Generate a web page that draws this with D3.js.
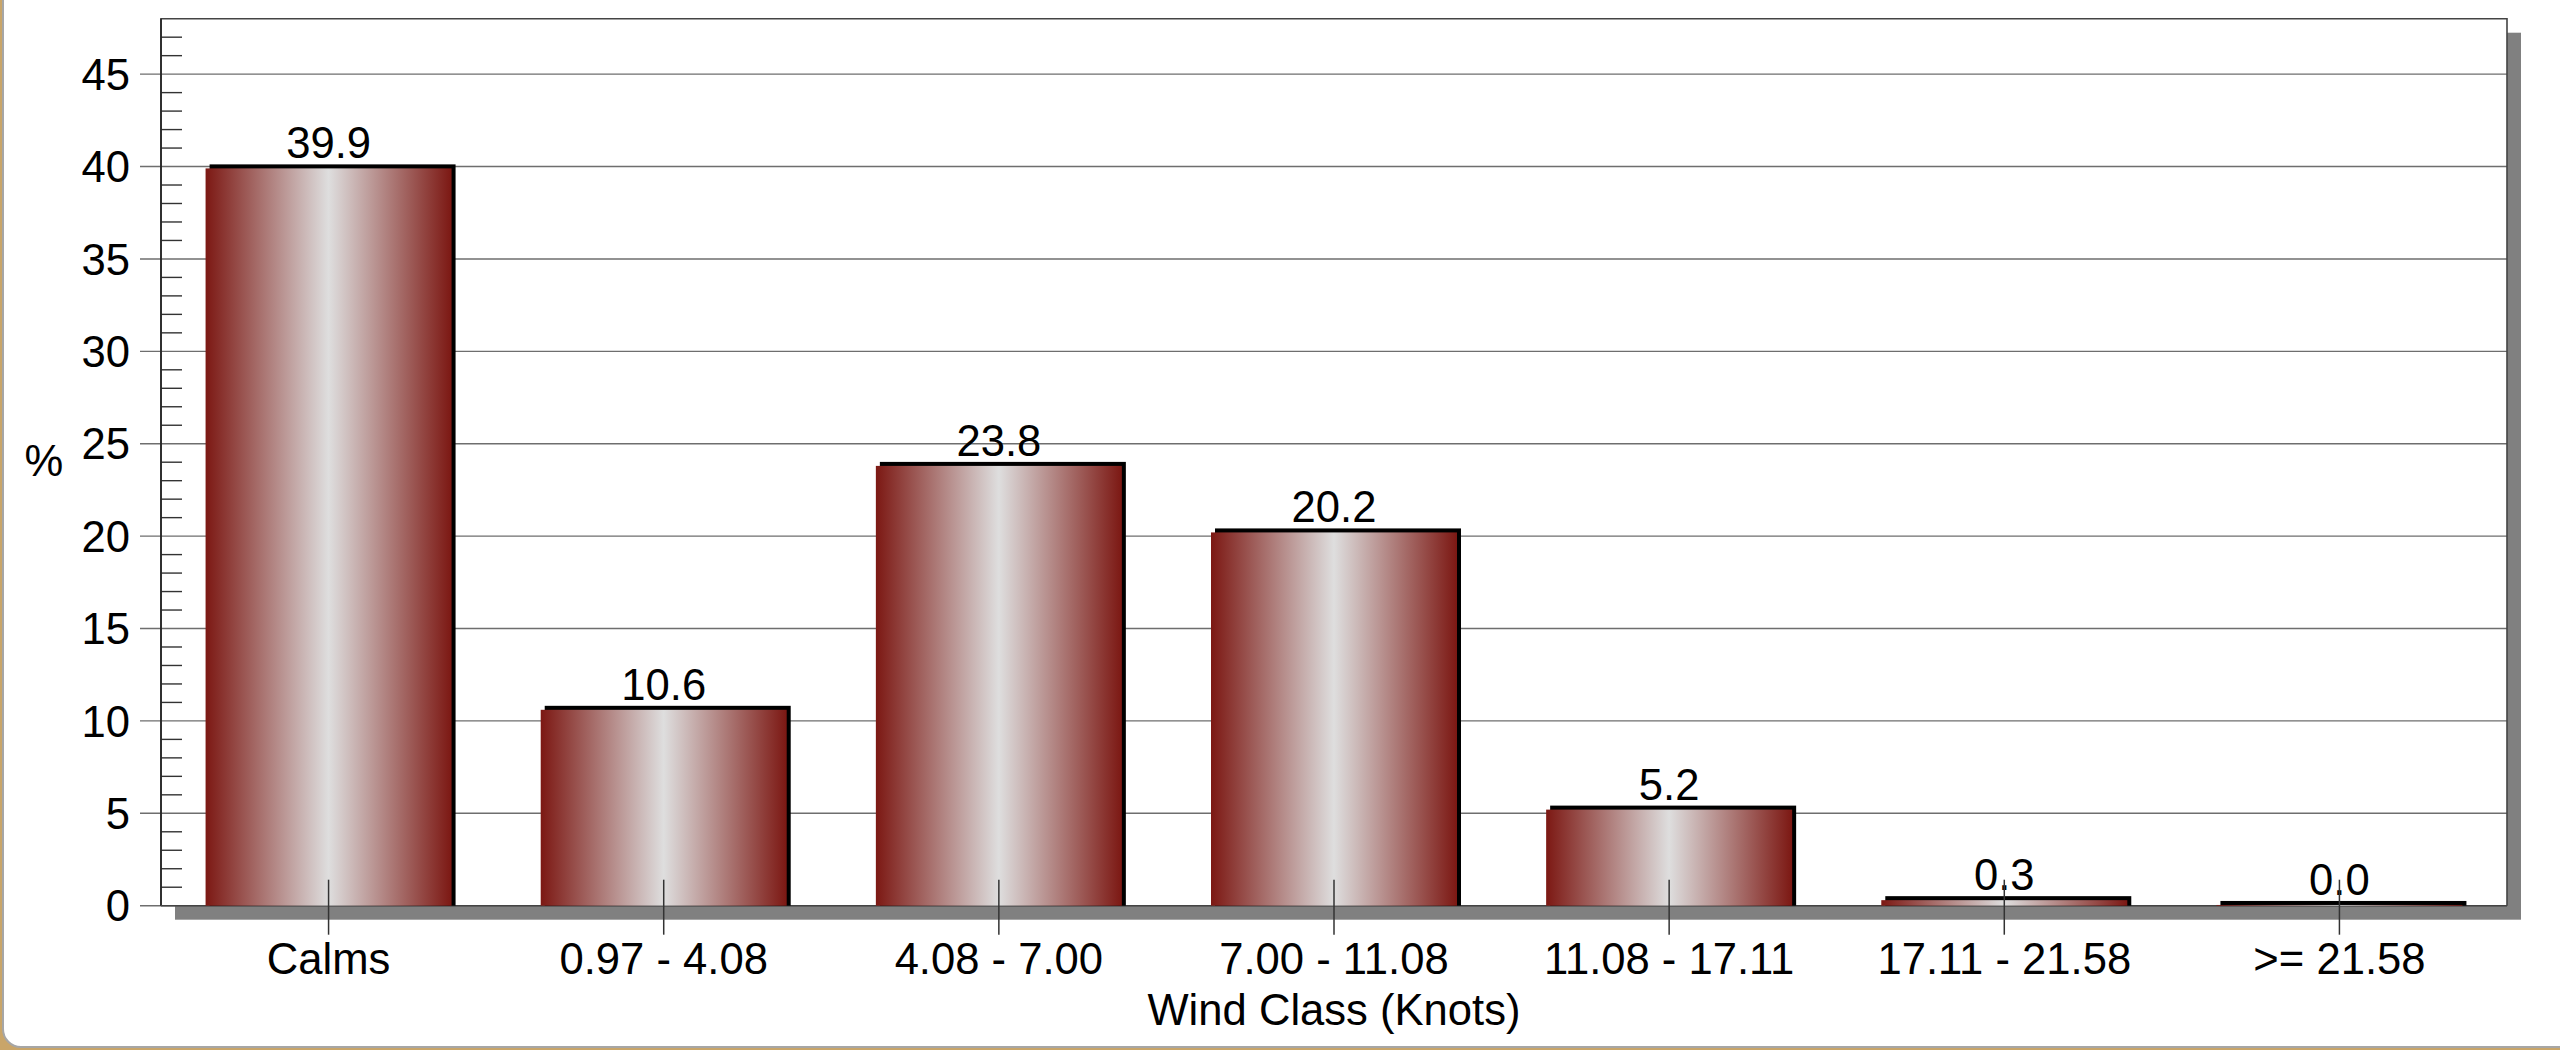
<!DOCTYPE html>
<html>
<head>
<meta charset="utf-8">
<script src="https://cdn.jsdelivr.net/npm/d3@7"></script>
<style>
  html, body { margin: 0; padding: 0; background: #c9a569; overflow: hidden; }
  svg { display: block; }
  text { font-family: "Liberation Sans", Arial, sans-serif; fill: #000; }
</style>
</head>
<body>
<svg id="chart" width="2560" height="1050"></svg>
<script>
const categories = ["Calms", "0.97 - 4.08", "4.08 - 7.00", "7.00 - 11.08", "11.08 - 17.11", "17.11 - 21.58", ">= 21.58"];
const values = [39.9, 10.6, 23.8, 20.2, 5.2, 0.3, 0.04];
const yMajorTicks = [0, 5, 10, 15, 20, 25, 30, 35, 40, 45];
const yMinorTicks = d3.range(0, 48).filter(v => v % 5 !== 0);
const xTitle = "Wind Class (Knots)";
const yTitle = "%";

const svg = d3.select("#chart");
const W = 2560, H = 1050;
const plot = { left: 161, right: 2507, top: 18.7, bottom: 905.7 };
const FS = 43.6;

// page panel
svg.append("rect").attr("x", 0).attr("y", 0).attr("width", W).attr("height", H).attr("fill", "#c9a569");
svg.append("rect").attr("x", 3).attr("y", -40).attr("width", W + 40).attr("height", 1087)
  .attr("rx", 18).attr("fill", "#fff").attr("stroke", "#a6a6a6").attr("stroke-width", 2);

const x = d3.scaleBand().domain(categories).range([plot.left, plot.right]).paddingInner(0.266).paddingOuter(0.133);
const y = d3.scaleLinear().domain([0, 48]).range([plot.bottom, plot.top]);

// plot shadow
svg.append("rect").attr("x", plot.left + 14).attr("y", plot.top + 14)
  .attr("width", plot.right - plot.left).attr("height", plot.bottom - plot.top).attr("fill", "#808080");
svg.append("rect").attr("x", plot.left).attr("y", plot.top)
  .attr("width", plot.right - plot.left).attr("height", plot.bottom - plot.top).attr("fill", "#fff");

// gridlines + major ticks
svg.append("g").selectAll("line").data(yMajorTicks).join("line")
  .attr("x1", plot.left - 21).attr("x2", plot.right)
  .attr("y1", d => y(d)).attr("y2", d => y(d))
  .attr("stroke", "#6e6e6e").attr("stroke-width", 1.4);

// minor ticks
svg.append("g").selectAll("line").data(yMinorTicks).join("line")
  .attr("x1", plot.left).attr("x2", plot.left + 21)
  .attr("y1", d => y(d)).attr("y2", d => y(d))
  .attr("stroke", "#333").attr("stroke-width", 1.4);

// border
svg.append("path")
  .attr("d", `M${plot.left},${plot.bottom}V${plot.top}H${plot.right}V${plot.bottom}`)
  .attr("fill", "none").attr("stroke", "#444").attr("stroke-width", 1.6);
svg.append("line").attr("x1", plot.left).attr("x2", plot.left).attr("y1", plot.top).attr("y2", plot.bottom)
  .attr("stroke", "#222").attr("stroke-width", 1.6);
svg.append("line").attr("x1", plot.left).attr("x2", plot.right).attr("y1", plot.bottom).attr("y2", plot.bottom)
  .attr("stroke", "#444").attr("stroke-width", 1.4);

// gradient
const defs = svg.append("defs");
const grad = defs.append("linearGradient").attr("id", "barGrad").attr("x1", "0%").attr("x2", "100%").attr("y1", "0%").attr("y2", "0%");
grad.append("stop").attr("offset", "0%").attr("stop-color", "#7c1813");
grad.append("stop").attr("offset", "50%").attr("stop-color", "#dedede");
grad.append("stop").attr("offset", "100%").attr("stop-color", "#7c1813");

const data = categories.map((c, i) => ({ c, v: values[i] }));

// black offset backs
svg.append("g").selectAll("rect").data(data).join("rect")
  .attr("x", d => x(d.c) + 4).attr("y", d => y(d.v) - 4)
  .attr("width", x.bandwidth()).attr("height", d => y(0) - y(d.v) + 4)
  .attr("fill", "#000");
// bars
svg.append("g").selectAll("rect").data(data).join("rect")
  .attr("x", d => x(d.c)).attr("y", d => y(d.v))
  .attr("width", x.bandwidth()).attr("height", d => Math.max(0.8, y(0) - y(d.v)))
  .attr("fill", "url(#barGrad)");

// value labels
svg.append("g").selectAll("text").data(data).join("text")
  .attr("x", d => x(d.c) + x.bandwidth() / 2).attr("y", d => y(d.v) - 10)
  .attr("text-anchor", "middle").attr("font-size", FS)
  .text(d => d3.format(".1f")(d.v));

// center ticks
svg.append("g").selectAll("line").data(categories).join("line")
  .attr("x1", d => x(d) + x.bandwidth() / 2).attr("x2", d => x(d) + x.bandwidth() / 2)
  .attr("y1", y(0) - 26).attr("y2", y(0) + 29)
  .attr("stroke", "#333").attr("stroke-width", 1.5);

// x labels
svg.append("g").selectAll("text").data(categories).join("text")
  .attr("x", d => x(d) + x.bandwidth() / 2).attr("y", 974)
  .attr("text-anchor", "middle").attr("font-size", FS)
  .text(d => d);

// y labels
svg.append("g").selectAll("text").data(yMajorTicks).join("text")
  .attr("x", 130).attr("y", d => y(d)).attr("dy", "0.36em")
  .attr("text-anchor", "end").attr("font-size", FS)
  .text(d => d);

// titles
svg.append("text").attr("x", (plot.left + plot.right) / 2).attr("y", 1025)
  .attr("text-anchor", "middle").attr("font-size", FS).text(xTitle);
svg.append("text").attr("x", 44).attr("y", 476)
  .attr("text-anchor", "middle").attr("font-size", FS).text(yTitle);
</script>
</body>
</html>
